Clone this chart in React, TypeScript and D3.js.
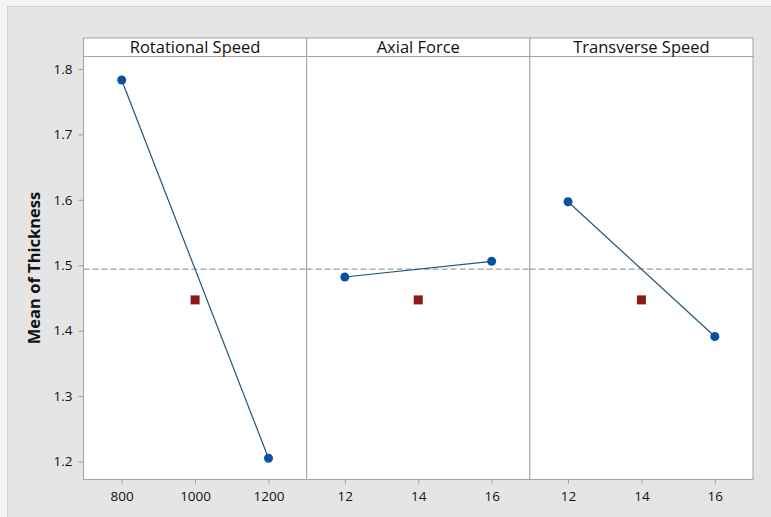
import React from "react";
import * as d3 from "d3";

// factor panels of the main effects plot
const factors = ["Rotational Speed", "Axial Force", "Transverse Speed"];
const levels = [
  [800, 1200],
  [12, 16],
  [12, 16],
];
const centerLevels = [1000, 14, 14];
const tickValues = [
  [800, 1000, 1200],
  [12, 14, 16],
  [12, 14, 16],
];
const meanValues = [
  [1.783, 1.205],
  [1.482, 1.506],
  [1.597, 1.391],
];
const centerValues = [1.447, 1.447, 1.447];
const overallMean = 1.494;
const yTicks = [1.2, 1.3, 1.4, 1.5, 1.6, 1.7, 1.8];

const W = 771, H = 517;
const plot = { left: 83.5, right: 753, top: 38, strip: 56.5, bottom: 479.5 };
const font = "'Open Sans', 'DejaVu Sans', sans-serif";

const App = () => {
  const ref = React.useRef<SVGSVGElement>(null);

  React.useEffect(() => {
    const svg = d3.select(ref.current);
    svg.selectAll("*").remove();

    svg.append("rect").attr("width", W).attr("height", H).attr("fill", "#f4f4f4");
    svg.append("rect")
      .attr("x", 7.5).attr("y", 6.5).attr("width", W - 7).attr("height", H - 6)
      .attr("fill", "#e5e5e5").attr("stroke", "#d2d2d2");

    const panelW = (plot.right - plot.left) / factors.length;
    const yScale = d3.scaleLinear([1.1725, 1.819], [plot.bottom, plot.strip]);

    // y axis
    const yAxis = svg.append("g").attr("transform", `translate(${plot.left},0)`)
      .call(d3.axisLeft(yScale).tickValues(yTicks).tickFormat(d3.format(".1f")).tickSize(5).tickPadding(6));
    yAxis.select(".domain").remove();
    yAxis.selectAll("line").attr("stroke", "#9a9a9a");
    yAxis.selectAll("text").attr("font-family", font).attr("font-size", 13.5).attr("fill", "#111");

    svg.append("text")
      .attr("transform", `translate(40,${(plot.strip + plot.bottom) / 2}) rotate(-90)`)
      .attr("text-anchor", "middle")
      .attr("font-family", font).attr("font-size", 16.5).attr("font-weight", "bold").attr("fill", "#111")
      .text("Mean of Thickness");

    const line = d3.line<[number, number]>();

    factors.forEach((name, i) => {
      const x0 = plot.left + i * panelW;
      const x1 = x0 + panelW;
      const lo = levels[i][0], hi = levels[i][1];
      const pad = (hi - lo) * 0.26;
      const xScale = d3.scaleLinear([lo - pad, hi + pad], [x0, x1]);
      const g = svg.append("g");

      // panel and strip
      g.append("rect").attr("x", x0).attr("y", plot.strip).attr("width", panelW).attr("height", plot.bottom - plot.strip)
        .attr("fill", "#fff").attr("stroke", "#a3a3a3");
      g.append("rect").attr("x", x0).attr("y", plot.top).attr("width", panelW).attr("height", plot.strip - plot.top)
        .attr("fill", "#fff").attr("stroke", "#a3a3a3");
      g.append("text").attr("x", (x0 + x1) / 2).attr("y", plot.strip - 4).attr("text-anchor", "middle")
        .attr("font-family", font).attr("font-size", 16.5).attr("fill", "#111").text(name);

      // x axis
      const xAxis = g.append("g").attr("transform", `translate(0,${plot.bottom})`)
        .call(d3.axisBottom(xScale).tickValues(tickValues[i]).tickFormat(d3.format("d")).tickSize(4).tickPadding(8));
      xAxis.select(".domain").remove();
      xAxis.selectAll("line").attr("stroke", "#9a9a9a");
      xAxis.selectAll("text").attr("font-family", font).attr("font-size", 13.5).attr("fill", "#111");

      // overall mean reference line
      g.append("line").attr("x1", x0).attr("x2", x1)
        .attr("y1", yScale(overallMean)).attr("y2", yScale(overallMean))
        .attr("stroke", "#a0a0a0").attr("stroke-width", 1.3).attr("stroke-dasharray", "6,3");

      const pts: [number, number][] = levels[i].map((lv, j) => [xScale(lv), yScale(meanValues[i][j])]);
      g.append("path").attr("d", line(pts)).attr("fill", "none").attr("stroke", "#1f5577").attr("stroke-width", 1.2);
      g.selectAll("circle.pt").data(pts).join("circle")
        .attr("cx", d => d[0]).attr("cy", d => d[1]).attr("r", 4.5).attr("fill", "#0a52a0");

      const cx = xScale(centerLevels[i]), cy = yScale(centerValues[i]);
      g.append("rect").attr("x", cx - 4.5).attr("y", cy - 4.5).attr("width", 9).attr("height", 9).attr("fill", "#8e1717");
    });
  }, []);

  return <svg ref={ref} width={W} height={H} style={{ position: "absolute", left: 0, top: 0 }} />;
};

export default App;
